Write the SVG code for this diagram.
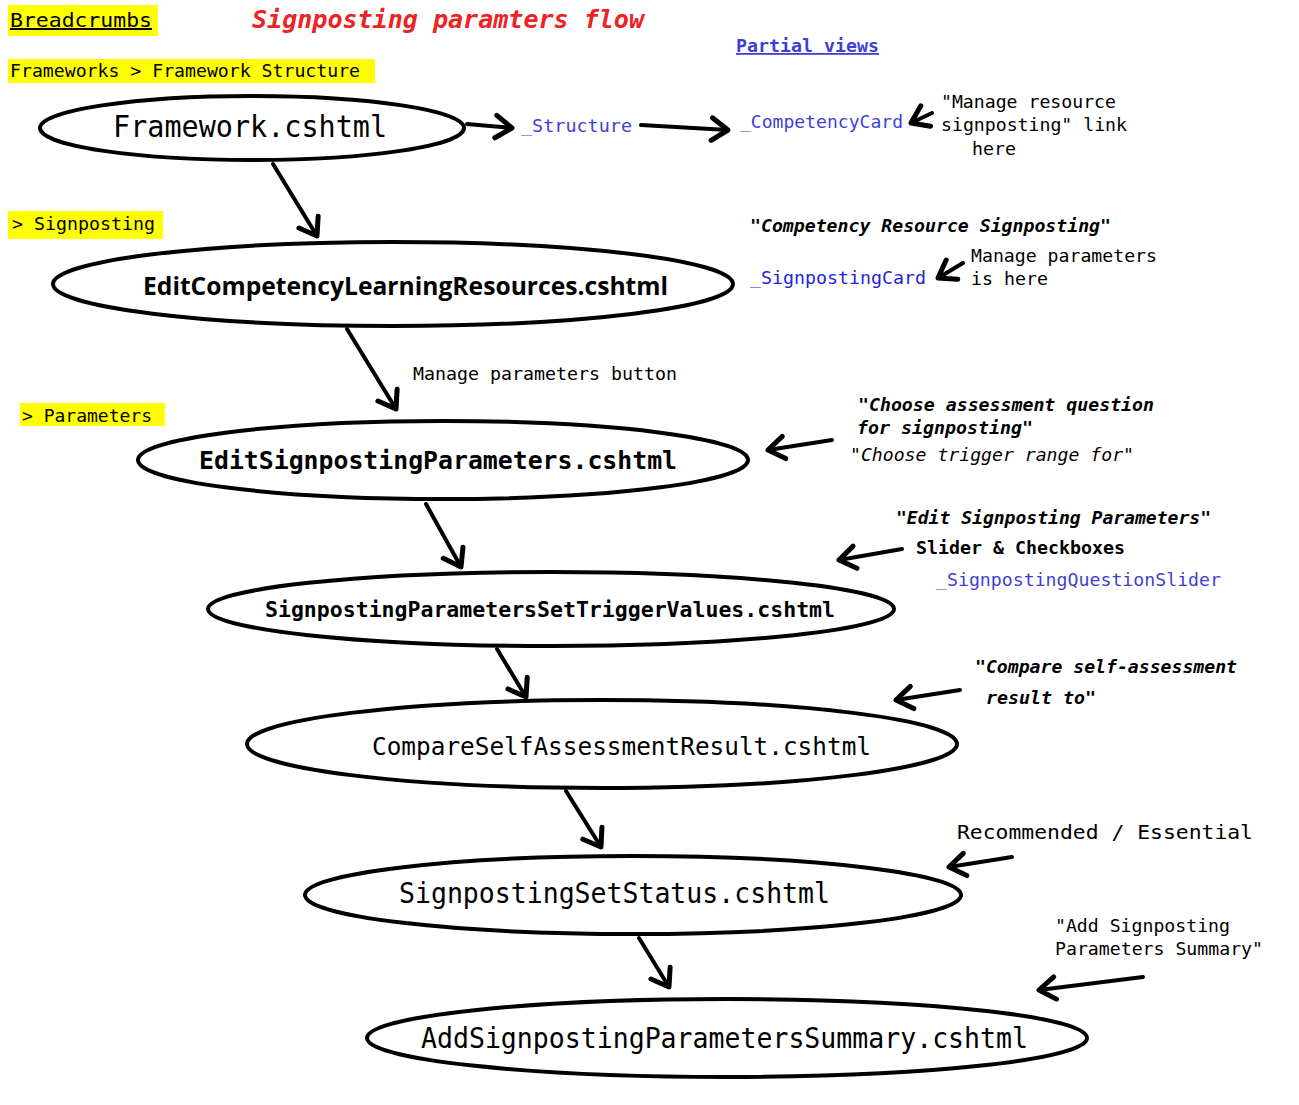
<svg xmlns="http://www.w3.org/2000/svg" width="1299" height="1105" viewBox="0 0 1299 1105">
<style>
  .node { fill: #fff; stroke: #000; stroke-width: 4; }
  .m { font-family: "DejaVu Sans Mono", "Liberation Mono", monospace; fill: #000; }
  .s { font-family: "Open Sans", "Liberation Sans", sans-serif; fill: #000; font-weight: bold; }
  .blue { fill: #3f3fd6; }
  .hl { fill: #ffff00; }
  .conn line { stroke: #000; stroke-width: 4; stroke-linecap: round; marker-end: url(#ah); }
  .it { font-style: italic; }
</style>
<defs>
  <marker id="ah" markerUnits="userSpaceOnUse" markerWidth="30" markerHeight="30" refX="0" refY="0" viewBox="-16 -12 20 24" orient="auto" overflow="visible">
    <path d="M-13,-9 L0,0 L-13,9" fill="none" stroke="#000" stroke-width="4" stroke-linecap="round" stroke-linejoin="round"/>
  </marker>
</defs>
<rect width="1299" height="1105" fill="#fff"/>

<g id="header">
  <rect class="hl" x="8" y="5" width="150" height="31"/>
  <text class="m" x="10" y="27" font-size="20" textLength="142" lengthAdjust="spacingAndGlyphs" text-decoration="underline">Breadcrumbs</text>
  <text class="m it" x="252" y="28" font-size="24" font-weight="bold" fill="#ee2222" style="fill:#ee2222" textLength="392" lengthAdjust="spacingAndGlyphs">Signposting paramters flow</text>
  <text class="m blue" x="736" y="52" font-size="18" font-weight="bold" text-decoration="underline" textLength="143" lengthAdjust="spacingAndGlyphs">Partial views</text>
  <rect class="hl" x="8" y="59" width="367" height="24"/>
  <text class="m" x="10" y="77" font-size="17" textLength="350" lengthAdjust="spacingAndGlyphs">Frameworks &gt; Framework Structure</text>
  <rect class="hl" x="8" y="211" width="155" height="28"/>
  <text class="m" x="12" y="230" font-size="17" textLength="143" lengthAdjust="spacingAndGlyphs">&gt; Signposting</text>
  <rect class="hl" x="20" y="403" width="145" height="23"/>
  <text class="m" x="22" y="422" font-size="17" textLength="130" lengthAdjust="spacingAndGlyphs">&gt; Parameters</text>
</g>

<g id="n-framework">
  <ellipse class="node" cx="252" cy="128" rx="212" ry="32"/>
  <text class="m" x="113" y="137" font-size="30" textLength="274" lengthAdjust="spacingAndGlyphs">Framework.cshtml</text>
</g>
<g id="n-editcomp">
  <ellipse class="node" cx="393" cy="284" rx="340" ry="42"/>
  <text class="s" x="143" y="295" font-size="25" textLength="525" lengthAdjust="spacingAndGlyphs">EditCompetencyLearningResources.cshtml</text>
</g>
<g id="n-editsign">
  <ellipse class="node" cx="443" cy="460" rx="305" ry="39"/>
  <text class="m" x="199" y="469" font-size="24" font-weight="bold" textLength="478" lengthAdjust="spacingAndGlyphs">EditSignpostingParameters.cshtml</text>
</g>
<g id="n-trigger">
  <ellipse class="node" cx="551" cy="609" rx="343" ry="37"/>
  <text class="m" x="265" y="617" font-size="21" font-weight="bold" textLength="570" lengthAdjust="spacingAndGlyphs">SignpostingParametersSetTriggerValues.cshtml</text>
</g>
<g id="n-compare">
  <ellipse class="node" cx="602" cy="744" rx="355" ry="44"/>
  <text class="m" x="372" y="755" font-size="24" textLength="499" lengthAdjust="spacingAndGlyphs">CompareSelfAssessmentResult.cshtml</text>
</g>
<g id="n-status">
  <ellipse class="node" cx="633" cy="895" rx="328" ry="39"/>
  <text class="m" x="399" y="903" font-size="28" textLength="431" lengthAdjust="spacingAndGlyphs">SignpostingSetStatus.cshtml</text>
</g>
<g id="n-summary">
  <ellipse class="node" cx="727" cy="1038" rx="360" ry="39"/>
  <text class="m" x="421" y="1048" font-size="28" textLength="607" lengthAdjust="spacingAndGlyphs">AddSignpostingParametersSummary.cshtml</text>
</g>

<g id="n-structure">
  <text class="m blue" x="521" y="132" font-size="17" textLength="111" lengthAdjust="spacingAndGlyphs">_Structure</text>
</g>
<g id="n-compcard">
  <text class="m blue" x="740" y="128" font-size="17" textLength="163" lengthAdjust="spacingAndGlyphs">_CompetencyCard</text>
</g>
<g id="n-signcard">
  <text class="m" x="750" y="284" font-size="17" fill="#2424e0" style="fill:#2424e0" textLength="176" lengthAdjust="spacingAndGlyphs">_SignpostingCard</text>
</g>
<g id="n-slider">
  <text class="m blue" x="936" y="586" font-size="17" textLength="285" lengthAdjust="spacingAndGlyphs">_SignpostingQuestionSlider</text>
</g>

<g id="labels">
  <text class="m" x="941" y="108" font-size="17" textLength="175" lengthAdjust="spacingAndGlyphs">"Manage resource</text>
  <text class="m" x="941" y="131" font-size="17" textLength="186" lengthAdjust="spacingAndGlyphs">signposting" link</text>
  <text class="m" x="972" y="155" font-size="17" textLength="44" lengthAdjust="spacingAndGlyphs">here</text>
  <text class="m it" x="750" y="232" font-size="17" font-weight="bold" textLength="361" lengthAdjust="spacingAndGlyphs">"Competency Resource Signposting"</text>
  <text class="m" x="971" y="262" font-size="17" textLength="186" lengthAdjust="spacingAndGlyphs">Manage parameters</text>
  <text class="m" x="971" y="285" font-size="17" textLength="77" lengthAdjust="spacingAndGlyphs">is here</text>
  <text class="m" x="413" y="380" font-size="17" textLength="264" lengthAdjust="spacingAndGlyphs">Manage parameters button</text>
  <text class="m it" x="858" y="411" font-size="17" font-weight="bold" textLength="296" lengthAdjust="spacingAndGlyphs">"Choose assessment question</text>
  <text class="m it" x="857" y="434" font-size="17" font-weight="bold" textLength="176" lengthAdjust="spacingAndGlyphs">for signposting"</text>
  <text class="m it" x="850" y="461" font-size="17" textLength="284" lengthAdjust="spacingAndGlyphs">"Choose trigger range for"</text>
  <text class="m it" x="896" y="524" font-size="17" font-weight="bold" textLength="315" lengthAdjust="spacingAndGlyphs">"Edit Signposting Parameters"</text>
  <text class="m" x="916" y="554" font-size="18" font-weight="bold" textLength="209" lengthAdjust="spacingAndGlyphs">Slider &amp; Checkboxes</text>
  <text class="m it" x="975" y="673" font-size="17" font-weight="bold" textLength="262" lengthAdjust="spacingAndGlyphs">"Compare self-assessment</text>
  <text class="m it" x="986" y="704" font-size="17" font-weight="bold" textLength="110" lengthAdjust="spacingAndGlyphs">result to"</text>
  <text class="m" x="957" y="839" font-size="20" textLength="296" lengthAdjust="spacingAndGlyphs">Recommended / Essential</text>
  <text class="m" x="1055" y="932" font-size="17" textLength="175" lengthAdjust="spacingAndGlyphs">"Add Signposting</text>
  <text class="m" x="1055" y="955" font-size="17" textLength="208" lengthAdjust="spacingAndGlyphs">Parameters Summary"</text>
</g>

<g id="connectors" class="conn">
  <line x1="273" y1="164" x2="317" y2="236"/>
  <line x1="347" y1="329" x2="396" y2="409"/>
  <line x1="426" y1="504" x2="461" y2="567"/>
  <line x1="497" y1="649" x2="526" y2="697"/>
  <line x1="566" y1="791" x2="601" y2="847"/>
  <line x1="639" y1="938" x2="669" y2="987"/>
  <line x1="467" y1="124" x2="512" y2="128"/>
  <line x1="641" y1="125" x2="728" y2="130"/>
  <line x1="932" y1="113" x2="911" y2="123"/>
  <line x1="963" y1="263" x2="938" y2="278"/>
  <line x1="832" y1="440" x2="768" y2="450"/>
  <line x1="902" y1="549" x2="839" y2="560"/>
  <line x1="960" y1="690" x2="896" y2="700"/>
  <line x1="1012" y1="857" x2="949" y2="867"/>
  <line x1="1143" y1="977" x2="1039" y2="990"/>
</g>
</svg>
